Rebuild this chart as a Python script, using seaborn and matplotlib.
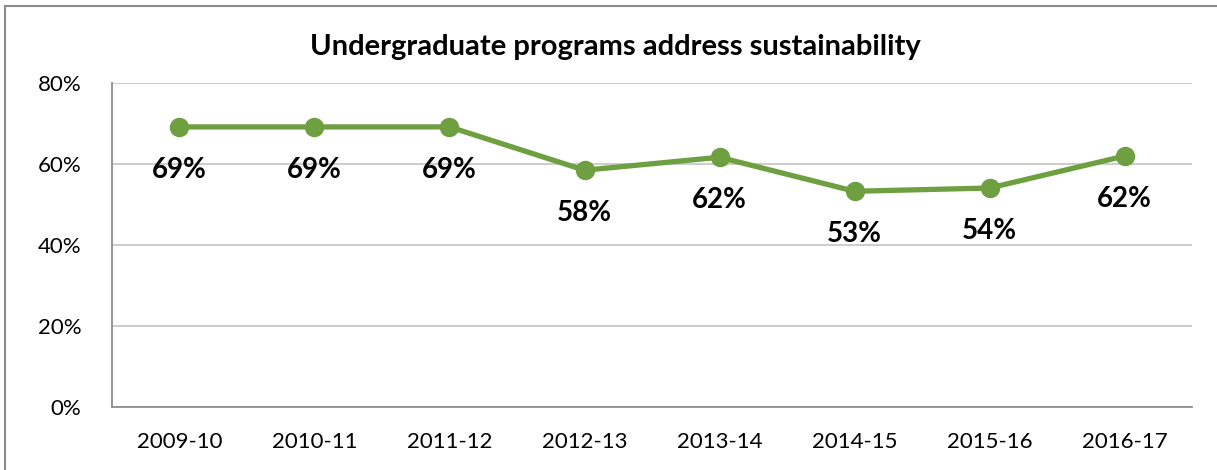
import pandas as pd
import seaborn as sns
import matplotlib.pyplot as plt
from matplotlib.patches import Rectangle
from matplotlib.ticker import FuncFormatter

periods = ['2009-10', '2010-11', '2011-12', '2012-13', '2013-14', '2014-15', '2015-16', '2016-17']
share = [69.2, 69.2, 69.2, 58.5, 61.7, 53.3, 54.1, 62.0]

df = pd.DataFrame({'period': periods, 'share': share})

sns.set_theme(style='white')
plt.rcParams['font.family'] = ['Lato', 'DejaVu Sans']
plt.rcParams['text.color'] = 'black'

green = '#6E9F40'
fig = plt.figure(figsize=(12.17, 4.70), dpi=100)
ax = fig.add_axes([0.092, 0.134, 0.8875, 0.689])

sns.lineplot(data=df, x='period', y='share', ax=ax, color=green, linewidth=3.8,
             marker='o', markersize=14, markeredgewidth=0, sort=False)

for i, v in enumerate(share):
    ax.annotate(f'{round(v)}%', (i, v), xytext=(0, -31), textcoords='offset points',
                ha='center', va='center', fontsize=20, fontweight='bold', color='black')

ax.set_xlim(-0.5, len(periods) - 0.5)
ax.set_ylim(0, 80)
ax.set_yticks([0, 20, 40, 60, 80])
ax.yaxis.set_major_formatter(FuncFormatter(lambda v, p: f'{v:.0f}%'))
ax.grid(axis='y', color='#C8C8C8', linewidth=1.3)
ax.set_axisbelow(True)
ax.set_xlabel('')
ax.set_ylabel('')
for s in ['top', 'right']:
    ax.spines[s].set_visible(False)
for s in ['left', 'bottom']:
    ax.spines[s].set_color('#8C8C8C')
    ax.spines[s].set_linewidth(1.3)
ax.tick_params(axis='x', length=0, pad=18, labelsize=16, colors='black')
ax.tick_params(axis='y', length=0, pad=22, labelsize=16, colors='black')

fig.text(0.506, 0.90, 'Undergraduate programs address sustainability', ha='center', va='center',
         fontsize=21, fontweight='bold', color='black')

fig.patches.append(Rectangle((0.004, -0.01), 1.2, 0.997, transform=fig.transFigure,
                             fill=False, edgecolor='#8C8C8C', linewidth=1.5))

plt.savefig('out.png', dpi=100)
